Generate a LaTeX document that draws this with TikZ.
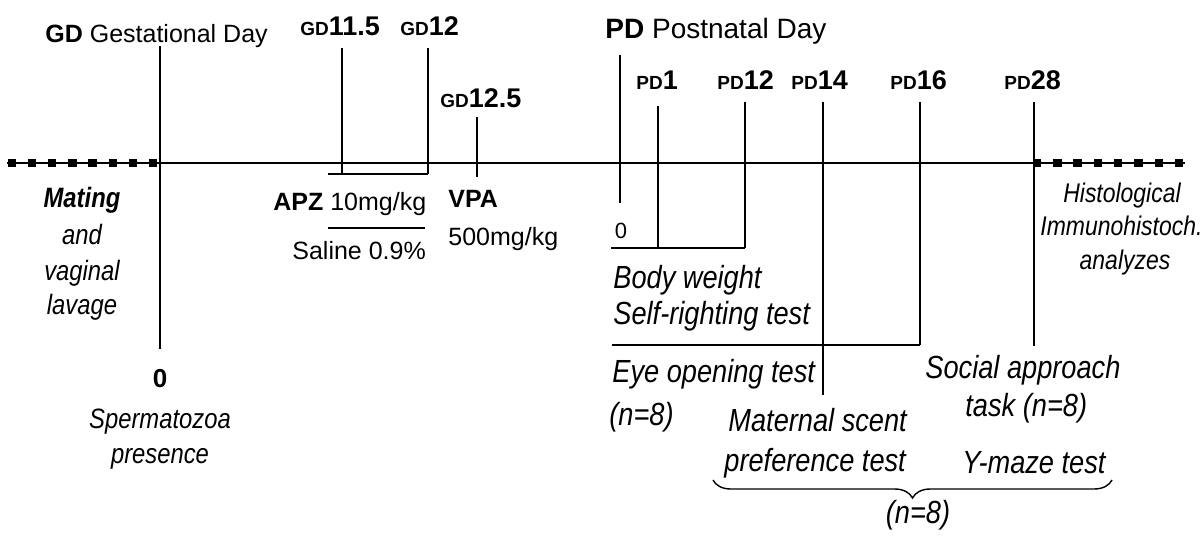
\documentclass[tikz,border=0pt]{standalone}
\usepackage{fontspec}
\setmainfont{Liberation Sans}
\newfontfamily\narrowsans{Liberation Sans}[FakeStretch=0.85]
\usetikzlibrary{decorations.pathreplacing}
\newcommand\dayprefix[2]{{\fontsize{9.5}{11}\selectfont\bfseries #1}{\fontsize{13.5}{15}\selectfont\bfseries #2}}
\begin{document}
\begin{tikzpicture}[x=0.5pt,y=-0.5pt,
  ln/.style={line width=0.9pt},
  sq/.style={fill=black,inner sep=0pt,minimum size=4.2pt},
  t/.style={inner sep=0pt,anchor=base west},
  tc/.style={inner sep=0pt,anchor=base},
  fs/.style={font=\fontsize{12.5}{15}\selectfont},
  fm/.style={font=\narrowsans\fontsize{16}{18}\selectfont\itshape},
  fg/.style={font=\narrowsans\fontsize{14}{16}\selectfont\itshape},
  fh/.style={font=\narrowsans\fontsize{13.5}{16}\selectfont\itshape}]
\useasboundingbox (0,0) rectangle (1200,540);
\clip (0,0) rectangle (1200,540);
% axis
\coordinate (axL) at (7,163);
\coordinate (axR) at (1185,163);
\draw[ln] (axL) -- (axR);
\foreach \i in {0,...,7} {
  \node[sq] (ls\i) at ({11.7+20.2*\i},163) {};
  \node[sq] (rs\i) at ({1037+20.3*\i},163) {};
}
% gestational headers
\node[t,fs] (gdhead) at (45,43) {\textbf{GD} Gestational Day};
\node[t] (gd115) at (300,36) {\dayprefix{GD}{11.5}};
\node[t] (gd12) at (400,36) {\dayprefix{GD}{12}};
\node[t] (gd125) at (440,108) {\dayprefix{GD}{12.5}};
% GD0
\coordinate (g0t) at (160,46);
\coordinate (g0b) at (160,349);
\draw[ln] (g0t) -- (g0b);
\node[tc,font=\fontsize{13}{15}\selectfont\bfseries] (zero) at (160,387) {0};
\node[tc,fg] (sperm1) at (160,428) {Spermatozoa};
\node[tc,fg] (sperm2) at (160,463) {presence};
\node[tc,fg,font=\narrowsans\fontsize{14}{16}\selectfont\bfseries\itshape] (mat1) at (82,207) {Mating};
\node[tc,fg] (mat2) at (82,244) {and};
\node[tc,fg] (mat3) at (82,280) {vaginal};
\node[tc,fg] (mat4) at (82,314) {lavage};
% APZ
\coordinate (a1t) at (342,48);
\coordinate (a1b) at (342,174);
\coordinate (a2t) at (428,48);
\coordinate (a2b) at (428,174);
\coordinate (abl) at (328,174);
\draw[ln] (a1t) -- (a1b);
\draw[ln] (a2t) -- (a2b);
\draw[ln] (abl) -- (a2b);
\node[t,fs] (apz) at (273,211) {\textbf{APZ} 10mg/kg};
\coordinate (sepl) at (328,228);
\coordinate (sepr) at (425,228);
\draw[ln] (sepl) -- (sepr);
\node[t,fs] (sal) at (292,259) {Saline 0.9\%};
% VPA
\coordinate (v1t) at (477,117);
\coordinate (v1b) at (477,177);
\draw[ln] (v1t) -- (v1b);
\node[t,font=\fontsize{12.5}{15}\selectfont\bfseries] (vpa) at (448,207) {VPA};
\node[t,fs] (vpad) at (448,245) {500mg/kg};
% postnatal
\node[t,font=\fontsize{14}{16}\selectfont] (pdhead) at (605,39) {\textbf{PD} Postnatal Day};
\node[t] (pd1) at (636,90) {\dayprefix{PD}{1}};
\node[t] (pd12) at (717,90) {\dayprefix{PD}{12}};
\node[t] (pd14) at (791,90) {\dayprefix{PD}{14}};
\node[t] (pd16) at (890,90) {\dayprefix{PD}{16}};
\node[t] (pd28) at (1004,90) {\dayprefix{PD}{28}};
\coordinate (p0t) at (620,55);
\coordinate (p0b) at (620,203);
\draw[ln] (p0t) -- (p0b);
\node[tc,font=\fontsize{11}{13}\selectfont] (pzero) at (621,238) {0};
\coordinate (p1t) at (658,106);
\coordinate (p1b) at (658,248);
\coordinate (p12t) at (745,102);
\coordinate (p12b) at (745,248);
\coordinate (bwl) at (611,248);
\draw[ln] (p1t) -- (p1b);
\draw[ln] (p12t) -- (p12b);
\draw[ln] (bwl) -- (p12b);
\coordinate (p14t) at (823,102);
\coordinate (p14b) at (823,395);
\draw[ln] (p14t) -- (p14b);
\coordinate (p16t) at (920,102);
\coordinate (p16b) at (920,345);
\coordinate (eol) at (612,345);
\draw[ln] (p16t) -- (p16b);
\draw[ln] (eol) -- (p16b);
\coordinate (p28t) at (1034,102);
\coordinate (p28b) at (1034,346);
\draw[ln] (p28t) -- (p28b);
% tests
\node[t,fm] (bw) at (613,288) {Body weight};
\node[t,fm] (sr) at (613,324) {Self-righting test};
\node[t,fm] (eo) at (612,382) {Eye opening test};
\node[t,fm] (n1) at (609,425) {(n=8)};
\node[t,fm] (ms1) at (728,431) {Maternal scent};
\node[t,fm] (ms2) at (724,471) {preference test};
\node[t,fm] (sa1) at (925,378) {Social approach};
\node[t,fm] (sa2) at (965,416) {task (n=8)};
\node[t,fm] (ym) at (962,473) {Y-maze test};
\coordinate (brl) at (713,480);
\coordinate (brr) at (1112,480);
\draw[line width=0.7pt,decorate,decoration={brace,mirror,amplitude=9pt}] (brl) -- (brr);
\node[tc,fm] (n2) at (918,523) {(n=8)};
% histology
\node[tc,fh] (h1) at (1122,202) {Histological};
\node[t,fh] (h2) at (1040,235) {Immunohistoch.};
\node[tc,fh] (h3) at (1125,270) {analyzes};
\end{tikzpicture}
\end{document}
